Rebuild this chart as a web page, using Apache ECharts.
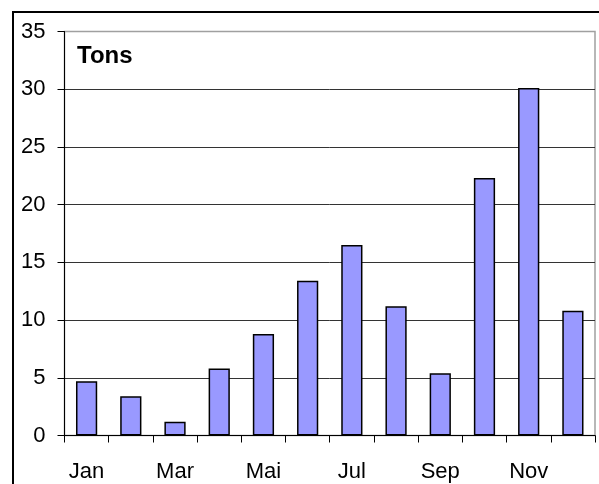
<!DOCTYPE html>
<html>
<head>
<meta charset="utf-8">
<script src="https://cdn.jsdelivr.net/npm/echarts@6/dist/echarts.min.js"></script>
<style>
html,body{margin:0;padding:0;background:#fff;}
#chart{width:599px;height:484px;}
</style>
</head>
<body>
<div id="chart"></div>
<script>
const categories = ['Jan','Feb','Mar','Apr','Mai','Jun','Jul','Aug','Sep','Okt','Nov','Dez'];
const tons = [4.7, 3.4, 1.2, 5.8, 8.8, 13.4, 16.5, 11.2, 5.4, 22.3, 30.1, 10.8];
const yTicks = [0, 5, 10, 15, 20, 25, 30, 35];
const unitLabel = 'Tons';

const chart = echarts.init(document.getElementById('chart'), null, {renderer:'canvas'});
chart.setOption({
  animation: false,
  backgroundColor: '#fff',
  textStyle: {fontFamily: 'Liberation Sans, Arial, sans-serif'},
  graphic: [
    {type:'rect', shape:{x:13, y:12, width:620, height:520}, style:{fill:null, stroke:'#000', lineWidth:2}, z:100},
    {type:'text', left:77, top:44, style:{text:unitLabel, font:'bold 24px "Liberation Sans", Arial, sans-serif', fill:'#000'}, z:100}
  ],
  grid: {left:64.5, top:31.5, right:4, bottom:48.5, show:true, borderColor:'#a0a0a0', borderWidth:1.5, containLabel:false},
  xAxis: {
    type:'category', data:categories,
    axisLine:{show:true, lineStyle:{color:'#000', width:1}},
    axisTick:{show:true, interval:0, length:7, lineStyle:{color:'#000'}},
    axisLabel:{interval:1, color:'#000', fontSize:22, margin:25, fontFamily:'Liberation Sans, Arial, sans-serif'},
    splitLine:{show:false}
  },
  yAxis: {
    type:'value', min:yTicks[0], max:yTicks[yTicks.length-1], interval:5,
    axisLine:{show:true, lineStyle:{color:'#000', width:1}},
    axisTick:{show:true, length:7, lineStyle:{color:'#000'}},
    axisLabel:{color:'#000', fontSize:22, margin:19, fontFamily:'Liberation Sans, Arial, sans-serif'},
    splitLine:{show:true, lineStyle:{color:['#333','#333','#333','#333','#333','#333','#333','#a0a0a0'], width:1}}
  },
  series: [{
    type:'bar', data:tons, barWidth:'48%',
    itemStyle:{color:'#9999ff', borderColor:'#000', borderWidth:1.5}
  }]
});
</script>
</body>
</html>
